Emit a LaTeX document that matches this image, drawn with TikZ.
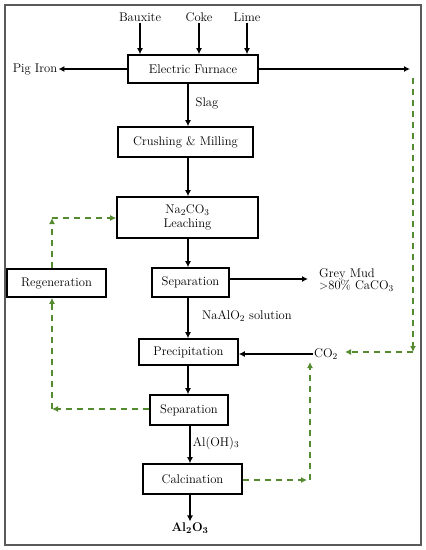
\documentclass[tikz,border=0pt]{standalone}
\usetikzlibrary{arrows.meta}
\definecolor{gr}{RGB}{84,138,48}
\definecolor{frame}{RGB}{90,90,90}
\begin{document}
\begin{tikzpicture}[x=1pt,y=-1pt,
  font=\fontsize{12.6}{14}\selectfont,
  box/.style={draw,line width=1.6pt,inner sep=0pt,align=center},
  lbl/.style={inner sep=1pt,align=center},
  arr/.style={line width=1.3pt,-{Latex[length=6pt,width=6pt]}},
  garr/.style={draw=gr,line width=1.6pt,dash pattern=on 6pt off 5pt,-{Latex[length=6pt,width=6pt]}}]
\useasboundingbox (0,0) rectangle (426,550);
\draw[frame,line width=1.2pt] (5,5) rectangle (421,545);
% boxes
\node[box,minimum width=130pt,minimum height=28pt] (furnace) at (193,69) {Electric Furnace};
\node[box,minimum width=135pt,minimum height=30pt] (crush) at (185.5,142) {Crushing \& Milling};
\node[box,minimum width=141pt,minimum height=41pt] (leach) at (187.5,217.5) {Na$_2$CO$_3$\\[0pt]Leaching};
\node[box,minimum width=99pt,minimum height=28pt] (regen) at (56.5,283) {Regeneration};
\node[box,minimum width=77pt,minimum height=29pt] (sep1) at (190.5,282.5) {Separation};
\node[box,minimum width=99pt,minimum height=26pt] (precip) at (188.5,352) {Precipitation};
\node[box,minimum width=78pt,minimum height=30pt] (sep2) at (189,410) {Separation};
\node[box,minimum width=99pt,minimum height=30pt] (calc) at (192.5,479) {Calcination};
% labels
\node[lbl] (bauxite) at (140,17) {Bauxite};
\node[lbl] (coke) at (199,17) {Coke};
\node[lbl] (lime) at (247,17) {Lime};
\node[lbl] (pig) at (35,69) {Pig Iron};
\node[lbl] (slag) at (207,103) {Slag};
\node[lbl,align=left,anchor=west] (mud) at (318,280) {Grey Mud\\[-2pt]${>}$80\% CaCO$_3$};
\node[lbl] (naalo) at (247,316) {NaAlO$_2$ solution};
\node[lbl] (co2) at (326,354) {CO$_2$};
\node[lbl] (aloh) at (216,443) {Al(OH)$_3$};
\node[lbl,font=\fontsize{12.6}{14}\selectfont\bfseries] (al2o3) at (190,528) {Al$_\mathbf{2}$O$_\mathbf{3}$};
% coordinates
\coordinate (ax) at (188,0);
\coordinate (bx) at (190,0);
\coordinate (r1) at (410,69);
\coordinate (r0) at (413,78);
\coordinate (r2) at (413,352);
\coordinate (mudend) at (308,279);
\coordinate (g1) at (52,409);
\coordinate (g2) at (52,218);
\coordinate (g3) at (307,480);
\coordinate (g4) at (310,480);
\coordinate (g5) at (310,362);
\coordinate (g6) at (345,352);
% black arrows
\draw[arr] (bauxite.south) -- (furnace.north -| bauxite);
\draw[arr] (coke.south) -- (furnace.north -| coke);
\draw[arr] (lime.south) -- (furnace.north -| lime);
\draw[arr] (furnace.west) -- (pig.east);
\draw[arr] (furnace.east) -- (r1);
\draw[arr] (furnace.south -| ax) -- (crush.north -| ax);
\draw[arr] (crush.south -| ax) -- (leach.north -| ax);
\draw[arr] (leach.south -| ax) -- (sep1.north -| ax);
\draw[arr] (sep1.east |- mudend) -- (mudend);
\draw[arr] (sep1.south -| ax) -- (precip.north -| ax);
\draw[arr] (co2.west) -- (co2.west -| precip.east);
\draw[arr] (precip.south -| ax) -- (sep2.north -| ax);
\draw[arr] (sep2.south -| bx) -- (calc.north -| bx);
\draw[arr] (calc.south -| bx) -- (al2o3.north -| bx);
% green dashed
\draw[garr] (r0) -- (r2);
\draw[garr] (r2) -- (g6);
\draw[garr] (sep2.west |- g1) -- (g1);
\draw[garr] (g1) -- (regen.south -| g1);
\draw[garr] (regen.north -| g1) -- (g2);
\draw[garr] (g2) -- (leach.west |- g2);
\draw[garr] (calc.east |- g3) -- (g3);
\draw[garr] (g4) -- (g5);
\end{tikzpicture}
\end{document}
